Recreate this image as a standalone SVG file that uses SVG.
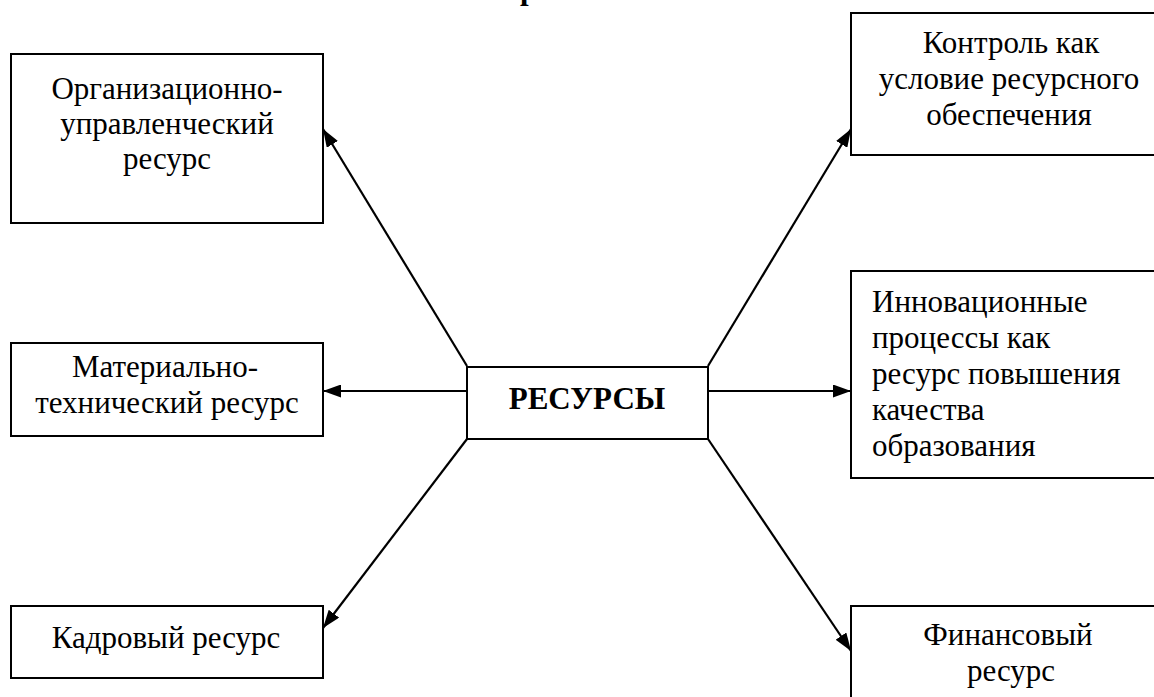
<svg xmlns="http://www.w3.org/2000/svg" width="1154" height="697" viewBox="0 0 1154 697" font-family="Liberation Serif, serif">
<style>
.box{fill:#fff;stroke:#000;stroke-width:2}
text{font-size:31px;fill:#000}
.c{text-anchor:middle}
.b{font-weight:bold}
.con line{stroke:#000;stroke-width:2.2}
</style>
<defs>
<marker id="a" viewBox="0 0 18 13" refX="18" refY="6.5" markerWidth="18" markerHeight="13" markerUnits="userSpaceOnUse" orient="auto">
<path d="M0,0 L18,6.5 L0,13 z" fill="#000"/>
</marker>
</defs>
<rect width="1154" height="697" fill="#fff"/>
<text class="b" x="520" y="-1" font-family="Liberation Serif" font-size="27">р</text>
<g id="n-org" font-family="Liberation Serif">
<rect class="box" x="11" y="54" width="312" height="169"/>
<text class="c" x="167" y="99" font-family="Liberation Serif">Организационно-</text>
<text class="c" x="167" y="134" font-family="Liberation Serif">управленческий</text>
<text class="c" x="167" y="169" font-family="Liberation Serif">ресурс</text>
</g>
<g id="n-control" font-family="Liberation Serif">
<rect class="box" x="851" y="13" width="320" height="142"/>
<text class="c" x="1011" y="53" font-family="Liberation Serif">Контроль как</text>
<text class="c" x="1009" y="89" font-family="Liberation Serif">условие ресурсного</text>
<text class="c" x="1009" y="125" font-family="Liberation Serif">обеспечения</text>
</g>
<g id="n-mat" font-family="Liberation Serif">
<rect class="box" x="11" y="343" width="312" height="93"/>
<text class="c" x="165" y="377" font-family="Liberation Serif">Материально-</text>
<text class="c" x="167" y="413" font-family="Liberation Serif">технический ресурс</text>
</g>
<g id="n-center" font-family="Liberation Serif">
<rect class="box" x="467" y="367" width="241" height="72"/>
<text class="c b" x="587" y="409" font-family="Liberation Serif">РЕСУРСЫ</text>
</g>
<g id="n-innov" font-family="Liberation Serif">
<rect class="box" x="851" y="271" width="320" height="207"/>
<text x="872" y="312" font-family="Liberation Serif">Инновационные</text>
<text x="872" y="348" font-family="Liberation Serif">процессы как</text>
<text x="872" y="384" font-family="Liberation Serif">ресурс повышения</text>
<text x="872" y="420" font-family="Liberation Serif">качества</text>
<text x="872" y="456" font-family="Liberation Serif">образования</text>
</g>
<g id="n-kadr" font-family="Liberation Serif">
<rect class="box" x="11" y="606" width="312" height="72"/>
<text class="c" x="166" y="648" font-family="Liberation Serif">Кадровый ресурс</text>
</g>
<g id="n-fin" font-family="Liberation Serif">
<rect class="box" x="851" y="606" width="320" height="110"/>
<text class="c" x="1008" y="645" font-family="Liberation Serif">Финансовый</text>
<text class="c" x="1011" y="681" font-family="Liberation Serif">ресурс</text>
</g>
<g id="connectors" class="con">
<line x1="467" y1="366" x2="323" y2="129" marker-end="url(#a)"/>
<line x1="708" y1="366" x2="851" y2="129" marker-end="url(#a)"/>
<line x1="467" y1="391" x2="323" y2="391" marker-end="url(#a)"/>
<line x1="708" y1="391" x2="851" y2="391" marker-end="url(#a)"/>
<line x1="467" y1="439" x2="323" y2="628" marker-end="url(#a)"/>
<line x1="708" y1="439" x2="851" y2="651" marker-end="url(#a)"/>
</g>
</svg>
